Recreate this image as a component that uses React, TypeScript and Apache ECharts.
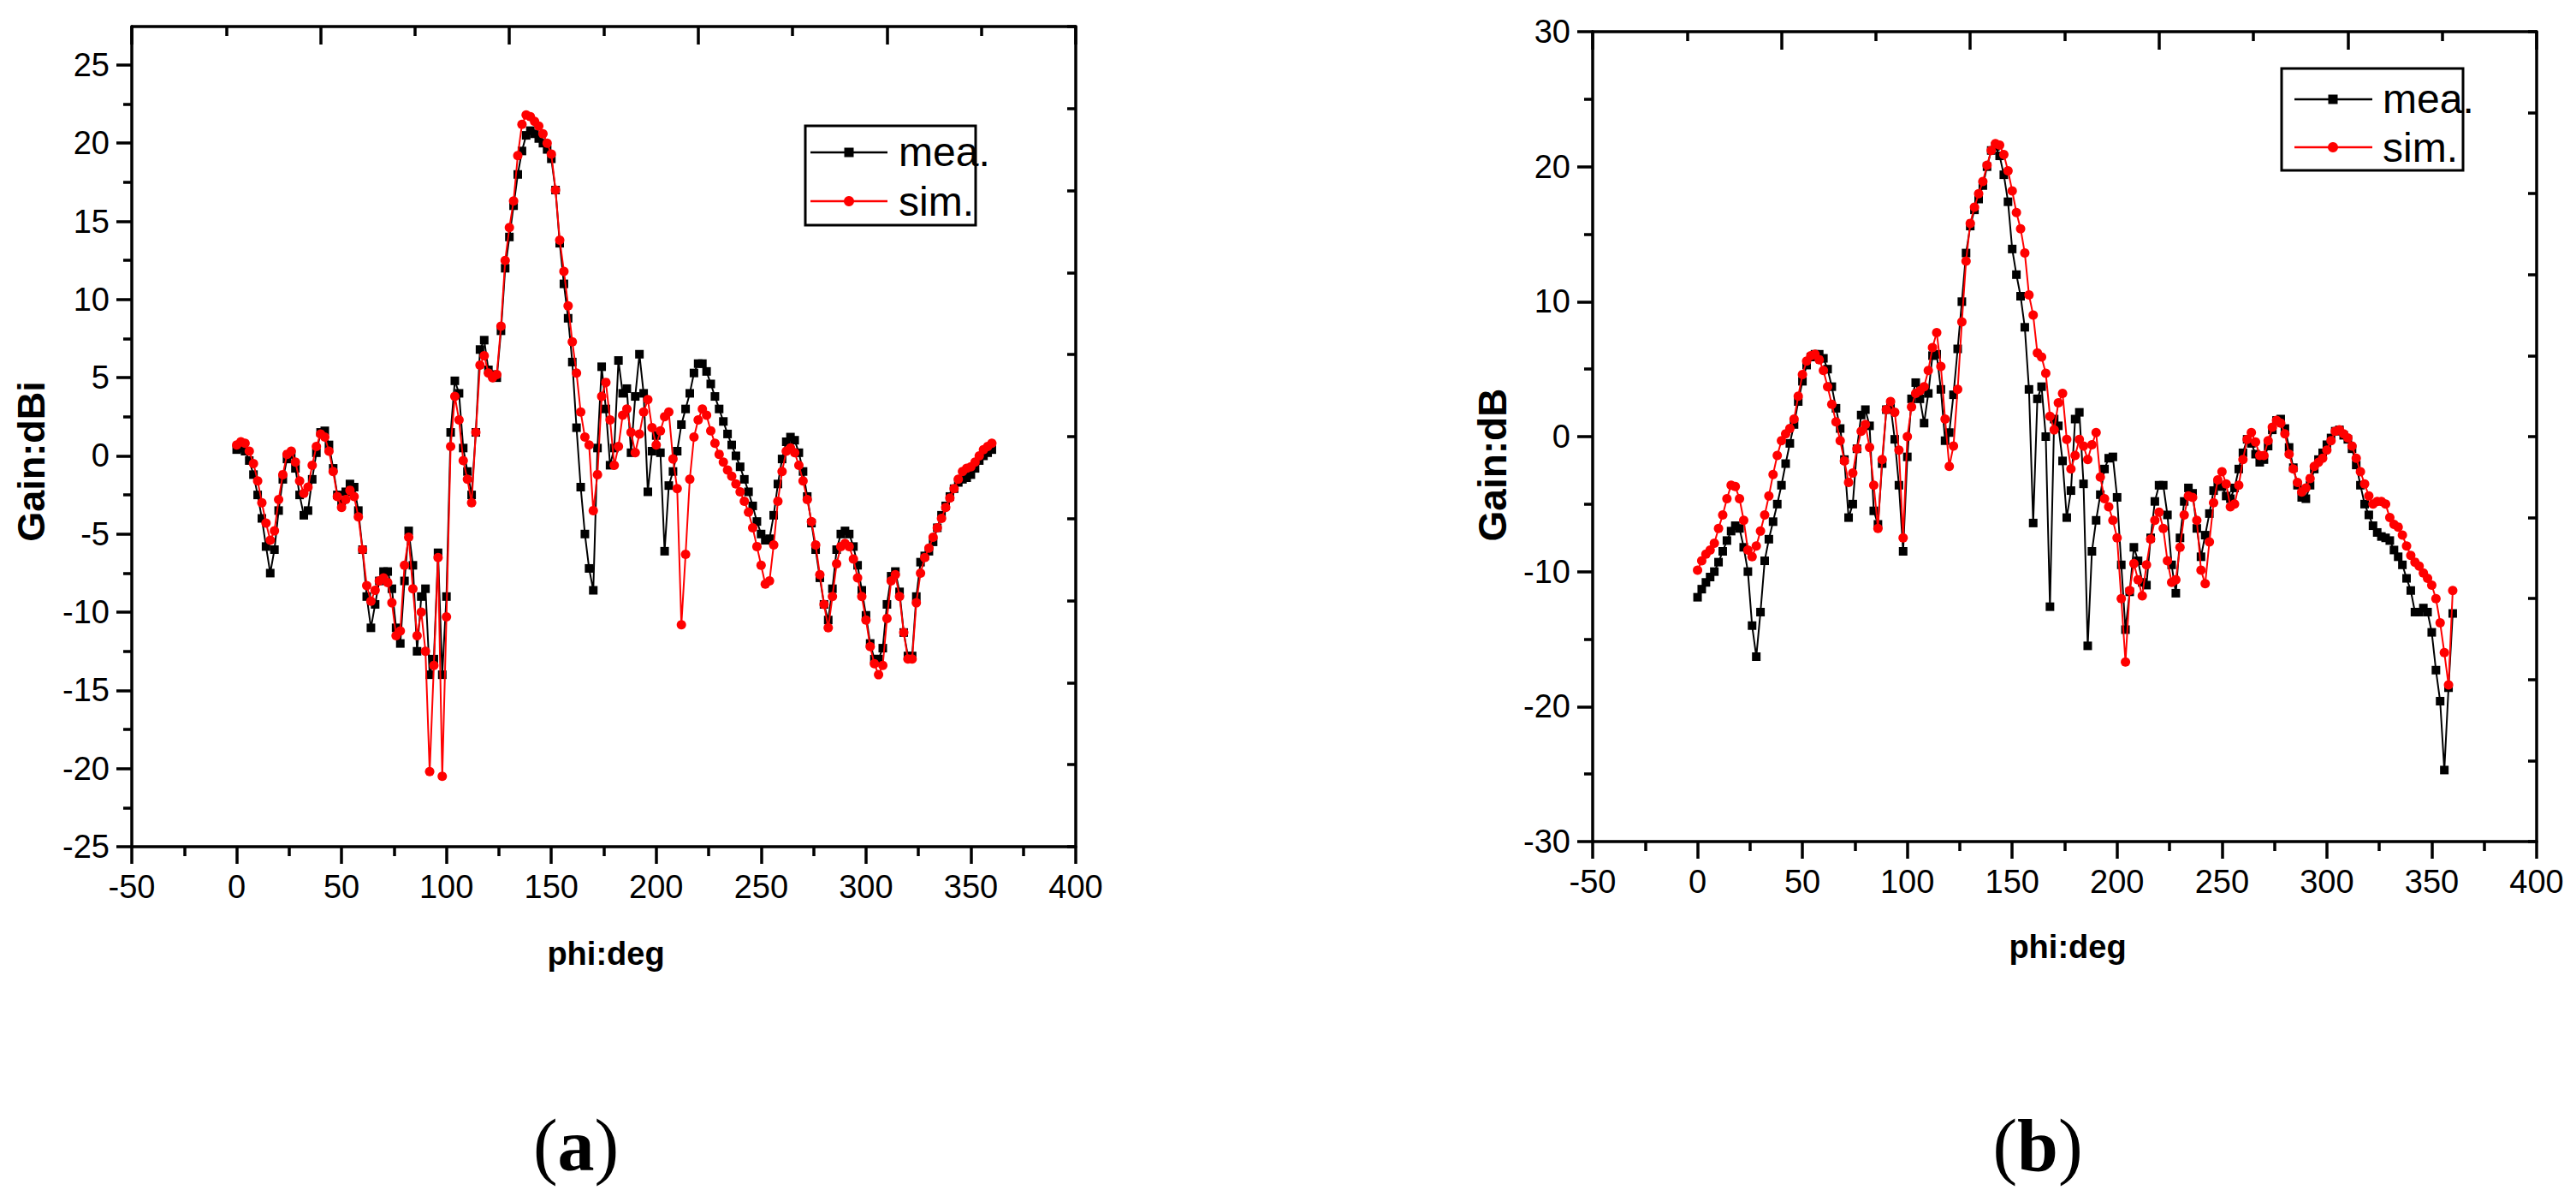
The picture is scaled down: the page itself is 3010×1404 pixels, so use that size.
import React, { useEffect, useRef } from "react";
import * as echarts from "echarts";

// sampling angles (deg)
const phi: number[] = Array.from({ length: 181 }, (_, i) => i * 2);

// Panel (a) — Gain:dBi
const meaA = [
  0.4, 0.5, 0.3, -0.3, -1.2, -2.5, -4.0, -5.8, -7.5, -6.0,
  -3.5, -1.5, -0.2, 0.1, -0.8, -2.5, -3.8, -3.5, -1.5, 0.2,
  1.5, 1.6, 0.7, -0.8, -2.5, -3.0, -2.3, -1.8, -2.0, -3.5,
  -6.0, -9.0, -11.0, -9.5, -8.0, -7.4, -7.4, -8.5, -11.0, -12.0,
  -8.0, -4.8, -7.0, -12.5, -9.0, -8.5, -14.0, -13.0, -6.2, -14.0,
  -9.0, 1.5, 4.8, 4.0, 0.5, -1.0, -2.5, 1.5, 6.8, 7.4,
  5.5, 5.2, 5.0, 8.0, 12.0, 14.0, 16.0, 18.0, 19.5, 20.5,
  20.8, 20.6, 20.3, 20.0, 19.6, 19.0, 17.0, 13.6, 11.0, 8.8,
  6.0, 1.8, -2.0, -5.0, -7.2, -8.6, 0.5, 5.7, 3.0, -0.6,
  0.5, 6.1, 4.0, 4.3, 0.2, 3.8, 6.5, 4.0, -2.3, 0.3,
  1.3, 0.2, -6.1, -1.9, -1.0, 0.3, 2.0, 3.0, 4.0, 5.3,
  5.9, 5.9, 5.4, 4.6, 3.8, 3.0, 2.2, 1.4, 0.7, 0.0,
  -0.7, -1.5, -2.3, -3.2, -4.2, -5.0, -5.4, -5.3, -3.8, -1.8,
  -0.2, 0.9, 1.2, 1.0, 0.2, -1.0, -2.6, -4.3, -6.0, -7.8,
  -9.5, -10.5, -8.5, -6.0, -5.0, -4.8, -5.0, -5.8, -7.0, -8.6,
  -10.2, -12.0, -13.0, -13.0, -12.3, -9.5, -7.7, -7.4, -8.7, -11.3,
  -12.8, -12.8, -9.0, -6.8, -6.4, -6.1, -5.5, -4.6, -3.8, -3.2,
  -2.6, -2.1, -1.7, -1.5, -1.4, -1.2, -0.8, -0.3, 0.0, 0.2,
  0.4,
];
const simA = [
  0.7, 0.9, 0.8, 0.3, -0.5, -1.6, -3.0, -4.3, -5.4, -4.8,
  -2.8, -1.2, 0.1, 0.3, -0.4, -1.6, -2.4, -2.0, -0.6, 0.6,
  1.4, 1.2, 0.3, -1.0, -2.6, -3.3, -2.8, -2.2, -2.6, -3.9,
  -6.0, -8.3, -9.3, -8.6, -8.0, -7.8, -8.1, -9.4, -11.5, -11.2,
  -7.0, -5.2, -8.5, -11.5, -10.0, -12.5, -20.2, -13.4, -6.5, -20.5,
  -10.3, 0.6, 3.8, 2.3, -0.3, -1.5, -3.0, 1.5, 5.8, 6.4,
  5.3, 5.0, 5.2, 8.3, 12.5, 14.6, 16.3, 19.2, 21.2, 21.8,
  21.7, 21.4, 21.1, 20.6, 20.0, 19.3, 17.0, 13.8, 11.8, 9.6,
  7.3, 5.3, 2.8, 1.2, 0.7, -3.5, -1.2, 3.8, 4.7, 2.3,
  -0.6, 0.6, 2.6, 3.0, 1.5, 0.2, 1.4, 2.8, 3.6, 1.8,
  0.7, 1.6, 2.5, 2.8, -0.2, -2.1, -10.8, -6.3, -1.5, 1.2,
  2.3, 3.0, 2.6, 1.6, 0.8, 0.1, -0.4, -0.9, -1.3, -1.8,
  -2.3, -2.9, -3.6, -4.6, -5.8, -7.0, -8.2, -8.0, -5.7, -2.9,
  -1.0, 0.3, 0.5, 0.2, -0.6, -1.6, -2.8, -4.2, -5.7, -7.6,
  -9.5, -11.0, -9.0, -6.9, -5.8, -5.6, -5.8, -6.6, -7.8, -9.0,
  -10.5, -12.2, -13.3, -14.0, -13.4, -10.4, -8.0, -7.6, -9.0, -11.3,
  -13.0, -13.0, -9.4, -7.5, -6.5, -5.9, -5.2, -4.6, -4.0, -3.3,
  -2.7, -2.1, -1.5, -1.0, -0.8, -0.7, -0.4, 0.0, 0.4, 0.6,
  0.8,
];

// Panel (b) — Gain:dB
const meaB = [
  -11.9, -11.3, -10.8, -10.4, -10.0, -9.3, -8.5, -7.7, -7.0, -6.6,
  -6.8, -8.2, -10.0, -14.0, -16.3, -13.0, -9.2, -7.6, -6.3, -5.0,
  -3.6, -2.0, -0.5, 0.9, 2.6, 4.1, 5.3, 5.9, 6.1, 6.1,
  5.8, 5.0, 3.7, 2.1, 0.6, -1.7, -6.0, -5.0, -0.9, 1.6,
  2.0, 0.8, -5.5, -6.5, -2.0, 2.0, 2.3, -0.2, -3.6, -8.5,
  -1.5, 2.8, 4.0, 2.8, 1.0, 3.2, 6.0, 6.1, 3.5, -0.3,
  0.3, 3.1, 6.5, 10.0, 13.6, 15.6, 16.8, 17.6, 18.6, 20.0,
  21.2, 21.5, 20.8, 19.4, 17.4, 13.9, 12.0, 10.4, 8.1, 3.5,
  -6.4, 2.8, 3.7, 0.0, -12.6, 1.3, 0.8, -1.8, -6.0, -4.0,
  1.3, 1.8, -3.5, -15.5, -8.5, -6.2, -4.3, -2.4, -1.6, -1.5,
  -4.5, -9.5, -14.3, -11.5, -8.2, -9.2, -10.8, -11.0, -7.5, -4.8,
  -3.6, -3.6, -5.8, -9.5, -11.6, -7.5, -4.8, -3.8, -4.2, -6.8,
  -8.9, -7.3, -5.7, -4.0, -3.6, -3.7, -4.4, -4.6, -3.8, -2.4,
  -1.2, -0.2, -0.5, -1.3, -1.9, -1.7, -0.7, 0.5, 1.2, 1.3,
  0.6, -0.8, -2.3, -3.6, -4.5, -4.6, -3.6, -2.4, -1.7, -1.2,
  -0.6, -0.1, 0.4, 0.5, 0.1, -0.2, -0.9, -2.1, -3.6, -5.0,
  -5.8, -6.6, -7.1, -7.4, -7.5, -7.7, -8.4, -8.9, -9.5, -10.5,
  -11.4, -13.0, -13.0, -12.7, -13.0, -14.5, -17.3, -19.6, -24.7, -18.6,
  -13.1,
];
const simB = [
  -9.9, -9.2, -8.7, -8.4, -7.9, -6.8, -5.8, -4.6, -3.6, -3.7,
  -4.6, -6.2, -8.4, -8.9, -8.1, -7.0, -5.8, -4.4, -2.8, -1.4,
  -0.3, 0.2, 0.6, 1.3, 3.0, 4.6, 5.6, 6.0, 6.1, 5.7,
  4.9, 3.7, 2.4, 1.1, -0.3, -1.8, -3.4, -2.7, -0.9, 0.4,
  0.9, -0.8, -3.6, -6.8, -1.7, 2.0, 2.6, 1.8, -1.0, -7.5,
  0.0, 2.2, 3.2, 3.4, 3.7, 4.9, 6.6, 7.7, 5.2, 1.3,
  -2.2, -0.7, 3.5, 8.5, 13.0, 15.8, 17.0, 18.0, 18.9, 20.1,
  21.2, 21.7, 21.6, 20.9, 19.7, 18.2, 16.6, 15.4, 13.6, 10.5,
  9.0, 6.2, 5.9, 4.7, 1.5, 0.5, 2.5, 3.2, -0.2, -2.4,
  -1.4, -0.2, -0.7, -1.7, -0.6, 0.3, -3.0, -4.6, -5.2, -6.2,
  -7.5, -12.0, -16.7, -11.4, -9.4, -10.6, -11.8, -9.5, -7.6, -6.2,
  -5.6, -6.8, -9.2, -10.8, -10.6, -8.2, -5.8, -4.4, -4.5, -6.2,
  -9.9, -10.9, -7.8, -4.9, -3.2, -2.6, -3.5, -5.2, -5.0, -3.6,
  -1.7, -0.2, 0.3, -0.4, -1.4, -1.4, -0.3, 0.7, 1.2, 1.0,
  0.2, -1.3, -2.4, -3.4, -4.1, -3.8, -3.1, -2.2, -1.9, -1.6,
  -1.0, -0.3, 0.4, 0.5, 0.2, -0.1, -0.7, -1.6, -2.6, -3.5,
  -4.4, -5.0, -4.8, -4.8, -5.0, -6.0, -6.5, -6.7, -7.3, -8.1,
  -8.8, -9.3, -9.6, -10.1, -10.5, -11.0, -12.0, -13.8, -16.0, -18.4,
  -11.4,
];

// tick labels / positions
const yMajorA = [-25, -20, -15, -10, -5, 0, 5, 10, 15, 20, 25];
const yMinorA = [-22.5, -17.5, -12.5, -7.5, -2.5, 2.5, 7.5, 12.5, 17.5, 22.5];
const seriesNames = ["mea.", "sim."];
const panelLabels = ["a", "b"];
const xTitle = "phi:deg";
const yTitles = ["Gain:dBi", "Gain:dB"];

const NARROW = "'Liberation Sans Narrow', 'Liberation Sans', Arial, sans-serif";
const SANS = "'Liberation Sans', Arial, sans-serif";
const SERIF = "'Liberation Serif', 'Times New Roman', serif";
const BLACK = "#000000";
const RED = "#ff0000";

const axisLine = { show: true, onZero: false, lineStyle: { color: BLACK, width: 3.5 } };
const tickStyle = { color: BLACK, width: 3.5 };

function bottomX(g: number) {
  return {
    type: "value", gridIndex: g, position: "bottom", min: -50, max: 400, interval: 50,
    axisLine,
    axisTick: { show: true, inside: false, length: 20, lineStyle: tickStyle },
    minorTick: { show: true, splitNumber: 2, length: 11, lineStyle: tickStyle },
    axisLabel: { show: true, fontSize: 38, fontFamily: NARROW, color: BLACK, margin: 28, showMinLabel: true, showMaxLabel: true },
    splitLine: { show: false },
  };
}
function topX(g: number) {
  return {
    type: "value", gridIndex: g, position: "top", min: 0, max: 5, interval: 1,
    axisLine,
    axisTick: { show: true, inside: true, length: 21, lineStyle: tickStyle },
    minorTick: { show: true, splitNumber: 2, length: 11, lineStyle: tickStyle },
    axisLabel: { show: false },
    splitLine: { show: false },
  };
}
function rightY(g: number) {
  return {
    type: "value", gridIndex: g, position: "right", min: 0, max: 10, interval: 1,
    axisLine,
    axisTick: { show: true, inside: true, length: 10, lineStyle: tickStyle },
    axisLabel: { show: false },
    splitLine: { show: false },
  };
}

function mkSeries(name: string, xi: number, yi: number, vals: number[], color: string, symbol: string, size: number, z: number) {
  return {
    type: "line", name, xAxisIndex: xi, yAxisIndex: yi,
    data: phi.map((p, i) => [p, vals[i]]),
    symbol, symbolSize: size, showSymbol: true,
    itemStyle: { color, borderWidth: 0 },
    lineStyle: { color, width: 2 },
    z, silent: true,
  };
}

function legendGraphic(bx: number, by: number, bw: number, bh: number, lx0: number, lx1: number, mx: number, ly1: number, ly2: number, tx: number) {
  return [
    { type: "rect", shape: { x: bx, y: by, width: bw, height: bh }, style: { fill: "#fff", stroke: BLACK, lineWidth: 3 }, z: 10 },
    { type: "line", shape: { x1: lx0, y1: ly1, x2: lx1, y2: ly1 }, style: { stroke: BLACK, lineWidth: 2.5 }, z: 11 },
    { type: "rect", shape: { x: mx - 5.5, y: ly1 - 5.5, width: 11, height: 11 }, style: { fill: BLACK }, z: 12 },
    { type: "line", shape: { x1: lx0, y1: ly2, x2: lx1, y2: ly2 }, style: { stroke: RED, lineWidth: 2.5 }, z: 11 },
    { type: "circle", shape: { cx: mx, cy: ly2, r: 6 }, style: { fill: RED }, z: 12 },
    { type: "text", x: tx, y: ly1 - 1, style: { text: seriesNames[0], fontSize: 48, fontFamily: NARROW, fill: BLACK, align: "left", verticalAlign: "middle" }, z: 12 },
    { type: "text", x: tx, y: ly2, style: { text: seriesNames[1], fontSize: 48, fontFamily: NARROW, fill: BLACK, align: "left", verticalAlign: "middle" }, z: 12 },
  ];
}

function panelLabel(cx: number, cy: number, letter: string) {
  return {
    type: "text", x: cx, y: cy,
    style: {
      text: `{p|(}{b|${letter}}{p|)}`,
      align: "center", verticalAlign: "middle", fill: BLACK,
      rich: {
        p: { fontFamily: SERIF, fontSize: 86, fontWeight: "normal", fill: BLACK },
        b: { fontFamily: SERIF, fontSize: 86, fontWeight: "bold", fill: BLACK },
      },
    },
  };
}

export default function App() {
  const ref = useRef<HTMLDivElement>(null);
  useEffect(() => {
    if (!ref.current) return;
    const chart = echarts.init(ref.current, null, { renderer: "svg" });
    const option: any = {
      animation: false,
      backgroundColor: "#ffffff",
      grid: [
        { left: 154, top: 31, width: 1103, height: 958, containLabel: false },
        { left: 1861, top: 37, width: 1103, height: 946, containLabel: false },
      ],
      xAxis: [bottomX(0), topX(0), bottomX(1), topX(1)],
      yAxis: [
        {
          type: "value", gridIndex: 0, position: "left", min: -25, max: 27.46, interval: 5,
          axisLine,
          axisTick: { show: true, inside: false, length: 18, lineStyle: tickStyle, customValues: yMajorA },
          axisLabel: {
            show: true, fontSize: 38, fontFamily: NARROW, color: BLACK, margin: 26, customValues: yMajorA,
            formatter: (v: number) => (Math.abs(v / 5 - Math.round(v / 5)) < 1e-6 ? String(v) : ""),
          },
          splitLine: { show: false },
        },
        rightY(0),
        {
          type: "value", gridIndex: 1, position: "left", min: -30, max: 30, interval: 10,
          axisLine,
          axisTick: { show: true, inside: false, length: 18, lineStyle: tickStyle },
          minorTick: { show: true, splitNumber: 2, length: 10, lineStyle: tickStyle },
          axisLabel: { show: true, fontSize: 38, fontFamily: NARROW, color: BLACK, margin: 26, showMinLabel: true, showMaxLabel: true },
          splitLine: { show: false },
        },
        rightY(1),
        {
          type: "value", gridIndex: 0, position: "left", min: -25, max: 27.46, interval: 2.5,
          axisLine: { show: false, onZero: false },
          axisTick: { show: true, inside: false, length: 10, lineStyle: tickStyle, customValues: yMinorA },
          axisLabel: { show: false },
          splitLine: { show: false },
        },
      ],
      series: [
        mkSeries(seriesNames[0], 0, 0, meaA, BLACK, "rect", 10, 2),
        mkSeries(seriesNames[1], 0, 0, simA, RED, "circle", 11, 3),
        mkSeries(seriesNames[0], 2, 2, meaB, BLACK, "rect", 10, 2),
        mkSeries(seriesNames[1], 2, 2, simB, RED, "circle", 11, 3),
      ],
      graphic: [
        { type: "text", x: 708, y: 1114, style: { text: xTitle, fontSize: 38, fontWeight: "bold", fontFamily: SANS, fill: BLACK, align: "center", verticalAlign: "middle" } },
        { type: "text", x: 2416, y: 1106, style: { text: xTitle, fontSize: 38, fontWeight: "bold", fontFamily: SANS, fill: BLACK, align: "center", verticalAlign: "middle" } },
        { type: "text", x: 36, y: 539, rotation: Math.PI / 2, style: { text: yTitles[0], fontSize: 45, fontWeight: "bold", fontFamily: SANS, fill: BLACK, align: "center", verticalAlign: "middle" } },
        { type: "text", x: 1744, y: 543, rotation: Math.PI / 2, style: { text: yTitles[1], fontSize: 46, fontWeight: "bold", fontFamily: SANS, fill: BLACK, align: "center", verticalAlign: "middle" } },
        ...legendGraphic(941, 147, 199, 116, 947, 1037, 992, 178, 235, 1050),
        ...legendGraphic(2666, 80, 212, 119, 2681, 2772, 2726, 116, 172, 2784),
        panelLabel(673, 1338, panelLabels[0]),
        panelLabel(2381, 1338, panelLabels[1]),
      ],
    };
    chart.setOption(option);
    return () => chart.dispose();
  }, []);
  return (
    <div
      ref={ref}
      style={{ position: "absolute", left: 0, top: 0, width: 3010, height: 1404, background: "#fff" }}
    />
  );
}
